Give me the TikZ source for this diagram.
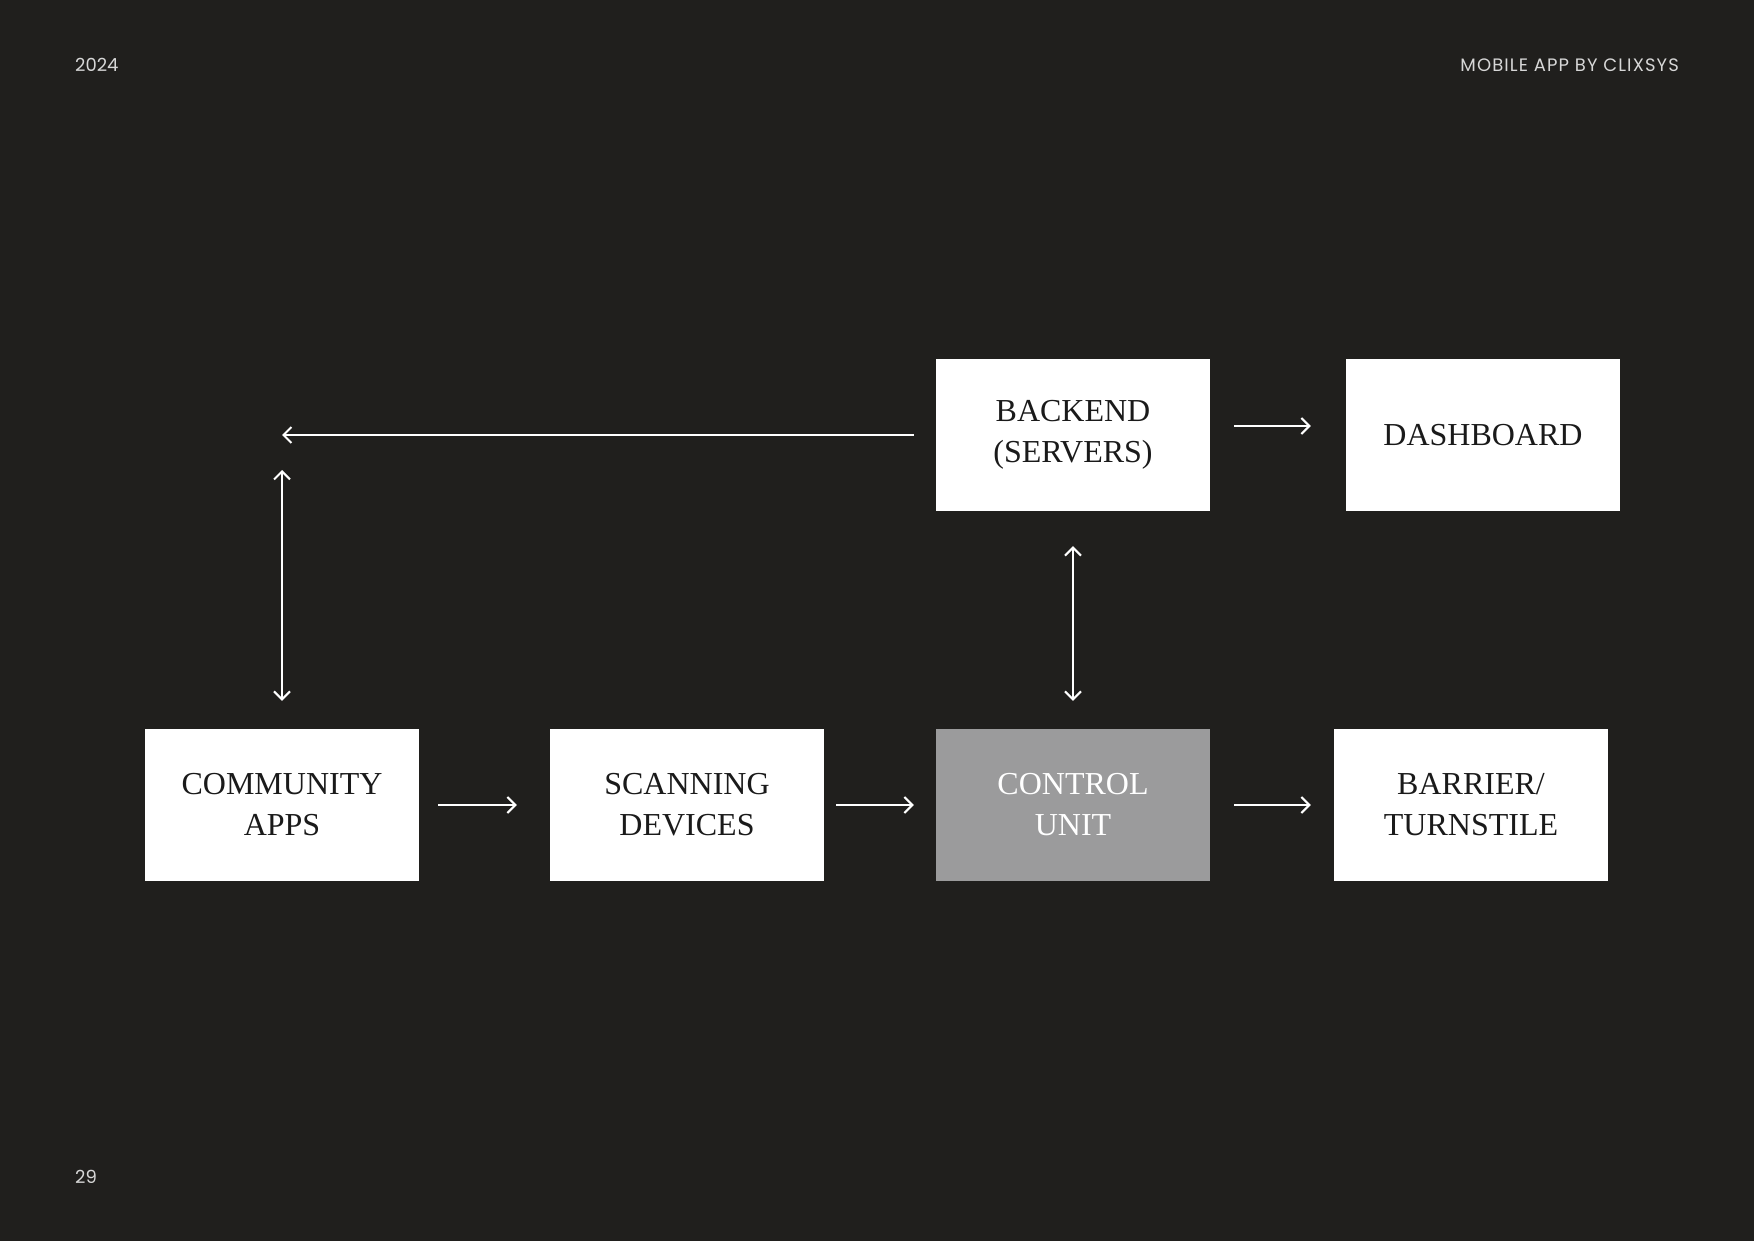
\documentclass[tikz,border=0pt]{standalone}
\usepackage{fontspec}
\setmainfont{Liberation Serif}
\newfontfamily\hdrfont{Poppins}
\newfontfamily\hdrwide{Poppins}[LetterSpace=6]
\usetikzlibrary{arrows.meta}
\definecolor{bg}{RGB}{32,31,29}
\definecolor{boxgray}{RGB}{155,155,156}
\definecolor{boxtext}{RGB}{26,26,26}
\definecolor{hdr}{RGB}{215,215,215}
\tikzset{
  box/.style={draw=none, fill=white, minimum width=274pt, minimum height=152pt, inner sep=0pt,
    align=center, text=boxtext, font=\fontsize{32}{41}\selectfont},
  graybox/.style={box, fill=boxgray, text=white},
  arr/.style={draw=white, line width=2pt, -{Straight Barb[length=8pt,width=16pt,line width=2pt]}},
  darr/.style={draw=white, line width=2pt, {Straight Barb[length=8pt,width=16pt,line width=2pt]}-{Straight Barb[length=8pt,width=16pt,line width=2pt]}},
  hdrtxt/.style={text=hdr, inner sep=0pt, font=\hdrfont\fontsize{18}{20}\selectfont}
}
\begin{document}
\begin{tikzpicture}[x=1pt,y=-1pt]
\fill[bg] (0,0) rectangle (1754,1241);
\useasboundingbox (0,0) rectangle (1754,1241);
\node[hdrtxt, anchor=base west] (year) at (75,72) {2024};
\node[hdrtxt, anchor=base east, font=\hdrwide\fontsize{18}{20}\selectfont] (title) at (1679,72) {MOBILE APP BY CLIXSYS};
\node[hdrtxt, anchor=base west] (page) at (75,1183) {29};

\node[box] (backend) at (1073,435) {BACKEND\\(SERVERS)};
\node[box] (dash) at (1483,435) {DASHBOARD};
\node[box] (comm) at (282,805) {COMMUNITY\\APPS};
\node[box] (scan) at (687,805) {SCANNING\\DEVICES};
\node[graybox] (ctrl) at (1073,805) {CONTROL\\UNIT};
\node[box] (barrier) at (1471,805) {BARRIER/\\TURNSTILE};

\coordinate (corner) at (282,435);

\draw[arr, shorten <=22pt] (backend) -- (corner);
\draw[darr, shorten <=35pt, shorten >=28pt] (corner) -- (comm.north);
\draw[arr, shorten <=24pt, shorten >=35pt] ([yshift=9pt]backend.east) -- ([yshift=9pt]dash.west);
\draw[darr, shorten <=35pt, shorten >=28pt] (backend.south) -- (ctrl.north);
\draw[arr, shorten <=19pt, shorten >=33pt] (comm) -- (scan);
\draw[arr, shorten <=12pt, shorten >=22pt] (scan) -- (ctrl);
\draw[arr, shorten <=24pt, shorten >=23pt] (ctrl) -- (barrier);
\end{tikzpicture}
\end{document}
